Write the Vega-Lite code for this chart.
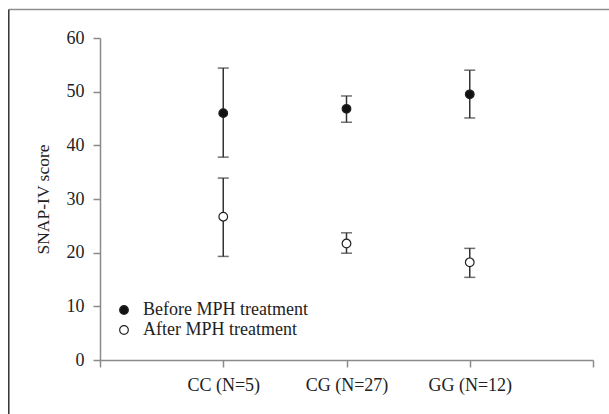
{
  "$schema": "https://vega.github.io/schema/vega-lite/v6.json",
  "width": 493,
  "height": 322,
  "padding": {"left": 8, "top": 8, "right": 0, "bottom": 0},
  "background": "white",
  "config": {
    "view": {"stroke": null},
    "font": "Liberation Serif",
    "axis": {
      "grid": false,
      "domainColor": "#8a8a8a",
      "domainWidth": 1.5,
      "tickColor": "#8a8a8a",
      "tickWidth": 1.5,
      "tickSize": 7,
      "labelFont": "Liberation Serif",
      "labelFontSize": 18,
      "labelColor": "#222",
      "titleFont": "Liberation Serif",
      "titleFontSize": 17.5,
      "titleFontWeight": "normal",
      "titleColor": "#222"
    }
  },
  "datasets": {
    "scores": [
      {"pos": 1, "genotype": "CC (N=5)", "time": "Before MPH treatment", "mean": 46.0, "lo": 37.8, "hi": 54.4},
      {"pos": 2, "genotype": "CG (N=27)", "time": "Before MPH treatment", "mean": 46.8, "lo": 44.3, "hi": 49.2},
      {"pos": 3, "genotype": "GG (N=12)", "time": "Before MPH treatment", "mean": 49.5, "lo": 45.1, "hi": 54.0},
      {"pos": 1, "genotype": "CC (N=5)", "time": "After MPH treatment", "mean": 26.7, "lo": 19.3, "hi": 33.9},
      {"pos": 2, "genotype": "CG (N=27)", "time": "After MPH treatment", "mean": 21.7, "lo": 19.9, "hi": 23.7},
      {"pos": 3, "genotype": "GG (N=12)", "time": "After MPH treatment", "mean": 18.2, "lo": 15.4, "hi": 20.8}
    ],
    "frame": [
      {"x1": -0.74, "x2": 5, "y1": 65.3, "y2": 65.3, "part": "top"},
      {"x1": -0.74, "x2": -0.74, "y1": 65.3, "y2": -12, "part": "left"}
    ]
  },
  "layer": [
    {
      "data": {"name": "frame"},
      "mark": {"type": "rule", "strokeWidth": 1.5},
      "encoding": {
        "x": {"field": "x1", "type": "quantitative", "scale": {"domain": [0, 4], "nice": false, "zero": false}},
        "x2": {"field": "x2"},
        "y": {"field": "y1", "type": "quantitative", "scale": {"domain": [0, 60], "nice": false, "zero": false}},
        "y2": {"field": "y2"},
        "color": {"field": "part", "type": "nominal", "scale": {"domain": ["top", "left"], "range": ["#8f8f8f", "#333333"]}, "legend": null}
      }
    },
    {
      "data": {"name": "scores"},
      "mark": {"type": "rule", "color": "#333", "strokeWidth": 1.5},
      "encoding": {
        "x": {"field": "pos", "type": "quantitative"},
        "y": {"field": "lo", "type": "quantitative"},
        "y2": {"field": "hi"}
      }
    },
    {
      "data": {"name": "scores"},
      "mark": {"type": "tick", "orient": "horizontal", "color": "#333", "size": 11, "thickness": 1.5},
      "encoding": {
        "x": {"field": "pos", "type": "quantitative"},
        "y": {"field": "lo", "type": "quantitative"}
      }
    },
    {
      "data": {"name": "scores"},
      "mark": {"type": "tick", "orient": "horizontal", "color": "#333", "size": 11, "thickness": 1.5},
      "encoding": {
        "x": {"field": "pos", "type": "quantitative"},
        "y": {"field": "hi", "type": "quantitative"}
      }
    },
    {
      "data": {"name": "scores"},
      "mark": {"type": "point", "shape": "circle", "size": 75, "stroke": "#222", "strokeWidth": 1.2, "opacity": 1, "filled": false},
      "encoding": {
        "x": {
          "field": "pos", "type": "quantitative",
          "axis": {"title": null, "values": [0, 1, 2, 3, 4], "labelExpr": "datum.value == 1 ? 'CC (N=5)' : datum.value == 2 ? 'CG (N=27)' : datum.value == 3 ? 'GG (N=12)' : ''", "labelPadding": 9, "labelFont": "Liberation Serif"}
        },
        "y": {
          "field": "mean", "type": "quantitative",
          "axis": {"title": "SNAP-IV score", "values": [0, 10, 20, 30, 40, 50, 60], "labelPadding": 9, "titlePadding": 14, "labelFont": "Liberation Serif", "titleFont": "Liberation Serif"}
        },
        "fill": {
          "field": "time", "type": "nominal",
          "scale": {"domain": ["Before MPH treatment", "After MPH treatment"], "range": ["#111111", "#ffffff"]},
          "legend": {
            "title": null,
            "orient": "none",
            "legendX": 15,
            "legendY": 263,
            "padding": 0,
            "symbolType": "circle",
            "symbolSize": 75,
            "symbolStrokeColor": "#222",
            "symbolStrokeWidth": 1.2,
            "labelFont": "Liberation Serif",
            "labelFontSize": 18,
            "labelLimit": 400,
            "labelColor": "#222",
            "labelOffset": 10,
            "rowPadding": 2
          }
        }
      }
    }
  ]
}
